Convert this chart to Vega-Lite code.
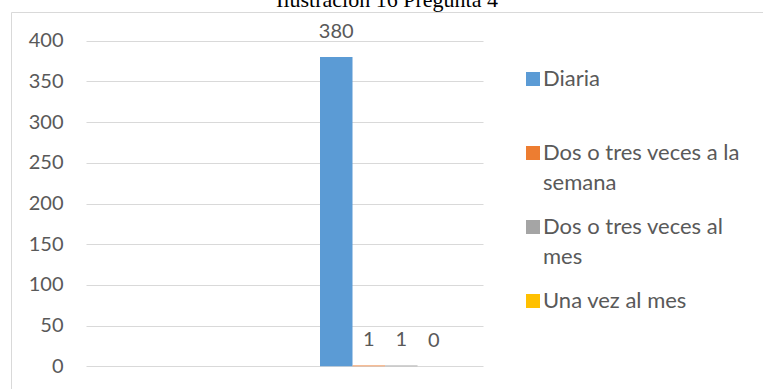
{
  "$schema": "https://vega.github.io/schema/vega-lite/v6.json",
  "autosize": "none",
  "width": 752,
  "height": 385,
  "padding": {"left": 11, "top": 12, "right": 0, "bottom": 0},
  "background": "#ffffff",
  "title": {
    "text": "Ilustración 16 Pregunta 4",
    "font": "Liberation Serif",
    "fontSize": 22,
    "fontWeight": "normal",
    "color": "#000000",
    "anchor": "middle",
    "baseline": "alphabetic",
    "offset": 0,
    "dy": 17
  },
  "config": {
    "view": {"stroke": "#D9D9D9", "strokeWidth": 1},
    "font": "Lato"
  },
  "data": {
    "values": [
      {"grupo": "Pregunta 4", "frecuencia": "Diaria", "personas": 380},
      {"grupo": "Pregunta 4", "frecuencia": "Dos o tres veces a la semana", "personas": 1},
      {"grupo": "Pregunta 4", "frecuencia": "Dos o tres veces al mes", "personas": 1},
      {"grupo": "Pregunta 4", "frecuencia": "Una vez al mes", "personas": 0}
    ]
  },
  "encoding": {
    "x": {
      "field": "grupo",
      "type": "nominal",
      "scale": {
        "domain": ["sin datos", "Pregunta 4"],
        "range": [75, 472],
        "paddingInner": 0.3532,
        "paddingOuter": 0.164
      },
      "axis": null
    },
    "y": {
      "field": "personas",
      "type": "quantitative",
      "scale": {"domain": [0, 400], "range": [354.3, 28.7], "nice": false, "zero": true},
      "axis": {
        "values": [0, 50, 100, 150, 200, 250, 300, 350, 400],
        "title": null,
        "grid": true,
        "gridColor": "#D9D9D9",
        "gridWidth": 1,
        "domain": false,
        "ticks": false,
        "tickSize": 0,
        "offset": -60,
        "labelPadding": 8,
        "labelFont": "Lato",
        "labelFontSize": 20,
        "labelColor": "#595959"
      }
    },
    "xOffset": {
      "field": "frecuencia",
      "type": "nominal",
      "scale": {
        "domain": ["Diaria", "Dos o tres veces a la semana", "Dos o tres veces al mes", "Una vez al mes"],
        "paddingInner": 0,
        "paddingOuter": 0
      }
    }
  },
  "layer": [
    {
      "mark": {"type": "bar"},
      "encoding": {
        "color": {
          "field": "frecuencia",
          "type": "nominal",
          "scale": {
            "domain": ["Diaria", "Dos o tres veces a la semana", "Dos o tres veces al mes", "Una vez al mes"],
            "range": ["#5B9BD5", "#ED7D31", "#A5A5A5", "#FFC000"]
          },
          "legend": {
            "orient": "none",
            "legendX": 511,
            "legendY": 56,
            "padding": 0,
            "title": null,
            "symbolType": "square",
            "symbolSize": 196,
            "symbolStrokeWidth": 0,
            "symbolOpacity": 1,
            "labelFont": "Lato",
            "labelFontSize": 22,
            "labelColor": "#595959",
            "labelOffset": -1,
            "labelLimit": 400,
            "rowPadding": 22,
            "labelExpr": "datum.label == 'Diaria' ? ['Diaria', ''] : datum.label == 'Dos o tres veces a la semana' ? ['Dos o tres veces a la', 'semana'] : datum.label == 'Dos o tres veces al mes' ? ['Dos o tres veces al', 'mes'] : ['Una vez al mes', '']",
            "encode": {
              "labels": {"update": {"lineHeight": {"value": 29.5}}}
            }
          }
        }
      }
    },
    {
      "mark": {"type": "text", "baseline": "middle", "dy": -25, "font": "Lato", "fontSize": 20, "color": "#595959"},
      "encoding": {"text": {"field": "personas", "type": "quantitative"}}
    }
  ]
}
